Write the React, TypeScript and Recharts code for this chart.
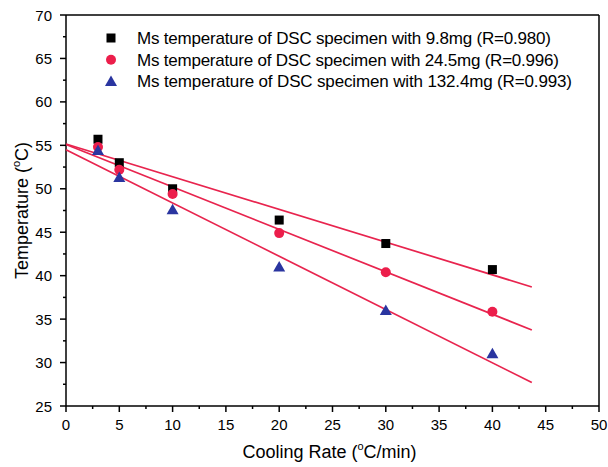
import { ScatterChart, Scatter, XAxis, YAxis, ReferenceLine, Label } from "recharts";

const FONT = "'Liberation Sans', Arial, sans-serif";
const RED = "#ec1e4b";
const LINE_RED = "#e8244e";
const BLUE = "#2a35a0";

// measured Ms temperatures (°C) vs cooling rate (°C/min)
const rates = [3, 5, 10, 20, 30, 40];
const ms98 = [55.7, 53.0, 50.0, 46.4, 43.7, 40.7];
const ms245 = [54.8, 52.2, 49.4, 44.9, 40.4, 35.85];
const ms1324 = [54.4, 51.3, 47.6, 41.0, 36.0, 31.0];

// linear fit end points
const fitX = [0, 43.7];
const fit98 = [55.15, 38.7];
const fit245 = [55.1, 33.75];
const fit1324 = [54.5, 27.7];

const xTicks = [0, 2.5, 5, 7.5, 10, 12.5, 15, 17.5, 20, 22.5, 25, 27.5, 30, 32.5, 35, 37.5, 40, 42.5, 45, 47.5, 50];
const yTicks = [25, 27.5, 30, 32.5, 35, 37.5, 40, 42.5, 45, 47.5, 50, 52.5, 55, 57.5, 60, 62.5, 65, 67.5, 70];

const legendLabels = [
  "Ms temperature of DSC specimen with 9.8mg (R=0.980)",
  "Ms temperature of DSC specimen with 24.5mg (R=0.996)",
  "Ms temperature of DSC specimen with 132.4mg (R=0.993)",
];
const legendWidths = [414, 422, 435];

const toPoints = (xs: number[], ys: number[]) => xs.map((x, i) => ({ x, y: ys[i] }));

const SquareDot = (p: any) => <rect x={p.cx - 4.5} y={p.cy - 4.5} width={9} height={9} fill="#000" />;
const CircleDot = (p: any) => <circle cx={p.cx} cy={p.cy} r={5} fill={RED} />;
const TriDot = (p: any) => (
  <polygon points={`${p.cx},${p.cy - 6} ${p.cx + 6},${p.cy + 4.5} ${p.cx - 6},${p.cy + 4.5}`} fill={BLUE} />
);
const NoDot = () => <g />;

const XTick = (p: any) => {
  const v = p.payload.value;
  const major = v % 5 === 0;
  return (
    <g>
      <line x1={p.x} x2={p.x} y1={p.y} y2={p.y + (major ? 6 : 3)} stroke="#000" strokeWidth={1.5} />
      {major && (
        <text x={p.x} y={p.y + 24} textAnchor="middle" fontSize={15} fontFamily={FONT} fill="#000">
          {v}
        </text>
      )}
    </g>
  );
};

const YTick = (p: any) => {
  const v = p.payload.value;
  const major = v % 5 === 0;
  return (
    <g>
      <line x1={p.x - (major ? 6 : 3)} x2={p.x} y1={p.y} y2={p.y} stroke="#000" strokeWidth={1.5} />
      {major && (
        <text x={p.x - 14} y={p.y + 5.5} textAnchor="end" fontSize={15} fontFamily={FONT} fill="#000">
          {v}
        </text>
      )}
    </g>
  );
};

const LegendBox = () => (
  <svg width={490} height={70} style={{ display: "block" }}>
    {legendLabels.map((t, i) => {
      const cy = 12 + i * 21.7;
      return (
        <g key={t}>
          {i === 0 && <SquareDot cx={11} cy={cy} />}
          {i === 1 && <CircleDot cx={11} cy={cy} />}
          {i === 2 && <TriDot cx={11} cy={cy} />}
          <text
            x={37}
            y={cy + 6}
            fontSize={17}
            textLength={legendWidths[i]}
            lengthAdjust="spacing"
            fontFamily={FONT}
            fill="#000"
          >
            {t}
          </text>
        </g>
      );
    })}
  </svg>
);

export default function App() {
  return (
    <div style={{ position: "absolute", left: 0, top: 0, width: 608, height: 467, background: "#fff" }}>
      <ScatterChart width={608} height={467} margin={{ top: 15, right: 9, bottom: 0, left: 0 }}>
        <XAxis
          type="number"
          dataKey="x"
          domain={[0, 50]}
          ticks={xTicks}
          interval={0}
          height={61}
          tickSize={0}
          tickMargin={0}
          tickLine={false}
          tick={<XTick />}
          axisLine={{ stroke: "#000", strokeWidth: 1.5 }}
        >
          <Label
            content={(props: any) => {
              const vb = props.viewBox;
              return (
                <text x={vb.x + vb.width / 2 - 3} y={vb.y + 52} textAnchor="middle" fontSize={18} fontFamily={FONT} fill="#000">
                  Cooling Rate (
                  <tspan fontSize={11} dy={-8}>o</tspan>
                  <tspan dy={8}>C/min)</tspan>
                </text>
              );
            }}
          />
        </XAxis>
        <YAxis
          type="number"
          dataKey="y"
          domain={[25, 70]}
          ticks={yTicks}
          interval={0}
          width={66}
          tickSize={0}
          tickMargin={0}
          tickLine={false}
          tick={<YTick />}
          axisLine={{ stroke: "#000", strokeWidth: 1.5 }}
        >
          <Label
            content={(props: any) => {
              const vb = props.viewBox;
              const cy = vb.y + vb.height / 2;
              return (
                <text
                  x={28}
                  y={cy}
                  transform={`rotate(-90 28 ${cy})`}
                  textAnchor="middle"
                  fontSize={18}
                  fontFamily={FONT}
                  fill="#000"
                >
                  Temperature (
                  <tspan fontSize={11} dy={-8}>o</tspan>
                  <tspan dy={8}>C)</tspan>
                </text>
              );
            }}
          />
        </YAxis>
        <ReferenceLine y={70} stroke="#000" strokeWidth={1.5} />
        <ReferenceLine x={50} stroke="#000" strokeWidth={1.5} />
        <Scatter data={toPoints(fitX, fit98)} line={{ stroke: LINE_RED, strokeWidth: 1.7 }} shape={<NoDot />} isAnimationActive={false} legendType="none" />
        <Scatter data={toPoints(fitX, fit245)} line={{ stroke: LINE_RED, strokeWidth: 1.7 }} shape={<NoDot />} isAnimationActive={false} legendType="none" />
        <Scatter data={toPoints(fitX, fit1324)} line={{ stroke: LINE_RED, strokeWidth: 1.7 }} shape={<NoDot />} isAnimationActive={false} legendType="none" />
        <Scatter data={toPoints(rates, ms98)} shape={<SquareDot />} isAnimationActive={false} />
        <Scatter data={toPoints(rates, ms245)} shape={<CircleDot />} isAnimationActive={false} />
        <Scatter data={toPoints(rates, ms1324)} shape={<TriDot />} isAnimationActive={false} />
      </ScatterChart>
      <div style={{ position: "absolute", left: 100, top: 26 }}>
        <LegendBox />
      </div>
    </div>
  );
}
